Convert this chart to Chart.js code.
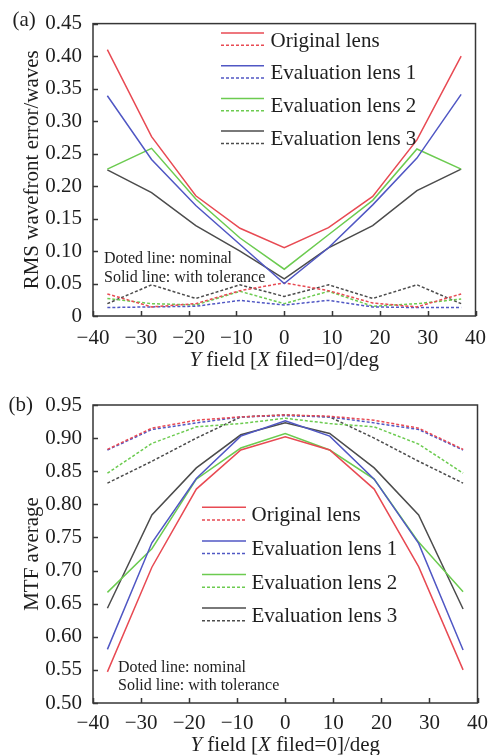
<!DOCTYPE html>
<html>
<head>
<meta charset="utf-8">
<script src="https://cdn.jsdelivr.net/npm/chart.js@4/dist/chart.umd.min.js"></script>
<style>
  html, body { margin: 0; padding: 0; background: #fff; }
  .panel { position: absolute; left: 0; }
  #panelA { top: 0; }
  #panelB { top: 380px; }
</style>
</head>
<body>
<div class="panel" id="panelA"><canvas id="chartA" width="496" height="380"></canvas></div>
<div class="panel" id="panelB"><canvas id="chartB" width="496" height="375"></canvas></div>
<script>
// Field angles sampled along Y (X field = 0), degrees
const fieldAngles = [-37, -27.75, -18.5, -9.25, 0, 9.25, 18.5, 27.75, 37];

const lensNames = ['Original lens', 'Evaluation lens 1', 'Evaluation lens 2', 'Evaluation lens 3'];
const lensColors = ['#e84a53', '#5057c4', '#6ccb50', '#4c4c4c'];

// (a) RMS wavefront error, waves — with tolerance (solid)
const rmsOriginalTol = [0.410, 0.276, 0.185, 0.135, 0.105, 0.136, 0.184, 0.271, 0.400];
const rmsLens1Tol    = [0.339, 0.241, 0.170, 0.110, 0.050, 0.105, 0.171, 0.243, 0.341];
const rmsLens2Tol    = [0.226, 0.258, 0.180, 0.120, 0.072, 0.125, 0.178, 0.257, 0.226];
const rmsLens3Tol    = [0.225, 0.190, 0.139, 0.100, 0.057, 0.105, 0.139, 0.193, 0.226];
// (a) RMS wavefront error, waves — nominal (dashed)
const rmsOriginalNom = [0.034, 0.014, 0.019, 0.039, 0.051, 0.039, 0.020, 0.014, 0.034];
const rmsLens1Nom    = [0.013, 0.014, 0.015, 0.024, 0.017, 0.024, 0.014, 0.013, 0.013];
const rmsLens2Nom    = [0.027, 0.019, 0.017, 0.038, 0.019, 0.038, 0.015, 0.019, 0.026];
const rmsLens3Nom    = [0.019, 0.048, 0.027, 0.048, 0.030, 0.048, 0.027, 0.048, 0.019];

// (b) MTF average — with tolerance (solid)
const mtfOriginalTol = [0.547, 0.705, 0.823, 0.882, 0.902, 0.882, 0.823, 0.706, 0.550];
const mtfLens1Tol    = [0.581, 0.742, 0.839, 0.903, 0.926, 0.903, 0.838, 0.741, 0.580];
const mtfLens2Tol    = [0.667, 0.733, 0.838, 0.885, 0.907, 0.882, 0.838, 0.743, 0.668];
const mtfLens3Tol    = [0.643, 0.784, 0.855, 0.905, 0.923, 0.907, 0.855, 0.784, 0.642];
// (b) MTF average — nominal (dashed)
const mtfOriginalNom = [0.883, 0.915, 0.927, 0.932, 0.935, 0.933, 0.927, 0.915, 0.883];
const mtfLens1Nom    = [0.882, 0.913, 0.923, 0.932, 0.934, 0.932, 0.923, 0.913, 0.882];
const mtfLens2Nom    = [0.847, 0.892, 0.917, 0.922, 0.930, 0.922, 0.917, 0.891, 0.847];
const mtfLens3Nom    = [0.832, 0.865, 0.900, 0.932, 0.935, 0.932, 0.900, 0.865, 0.832];

// Axis ranges and tick spacing
const xRange = [-40, 40];
const xStep = 10;
const rmsRange = [0, 0.45];
const mtfRange = [0.50, 0.95];
const yStep = 0.05;

const SERIF = "'Liberation Serif', 'DejaVu Serif', serif";
const TEXT = '#1e1e1e';

function buildDatasets(tolSeries, nomSeries) {
  const sets = [];
  lensNames.forEach((name, i) => {
    sets.push({
      label: name, lens: i, nominal: false,
      data: fieldAngles.map((x, k) => ({ x, y: tolSeries[i][k] })),
      borderColor: lensColors[i], borderWidth: 1.5,
      pointRadius: 0, tension: 0, fill: false
    });
  });
  lensNames.forEach((name, i) => {
    sets.push({
      label: name + ' (nominal)', lens: i, nominal: true,
      data: fieldAngles.map((x, k) => ({ x, y: nomSeries[i][k] })),
      borderColor: lensColors[i], borderWidth: 1.5, borderDash: [3, 2],
      pointRadius: 0, tension: 0, fill: false
    });
  });
  return sets;
}

// Closed frame around the plot area with inward tick marks
const frameTicks = {
  id: 'frameTicks',
  afterDatasetsDraw(chart) {
    const { ctx, chartArea: a, scales: { x, y } } = chart;
    ctx.save();
    ctx.strokeStyle = '#363636';
    ctx.lineWidth = 1.5;
    ctx.strokeRect(a.left, a.top, a.right - a.left, a.bottom - a.top);
    ctx.beginPath();
    x.ticks.forEach(t => {
      const px = Math.round(x.getPixelForValue(t.value)) + 0.5;
      ctx.moveTo(px, a.bottom); ctx.lineTo(px, a.bottom - 5);
    });
    y.ticks.forEach(t => {
      const py = Math.round(y.getPixelForValue(t.value)) + 0.5;
      ctx.moveTo(a.left, py); ctx.lineTo(a.left + 5, py);
    });
    ctx.stroke();
    ctx.restore();
  }
};

// Legend: each lens shows a solid (with tolerance) and a dashed (nominal) sample
const pairLegend = {
  id: 'pairLegend',
  afterDatasetsDraw(chart, args, o) {
    const { ctx } = chart;
    ctx.save();
    ctx.font = '21px ' + SERIF;
    ctx.fillStyle = TEXT;
    ctx.textBaseline = 'alphabetic';
    lensNames.forEach((name, i) => {
      const y0 = o.top + i * o.gap;
      ctx.strokeStyle = lensColors[i];
      ctx.lineWidth = 1.5;
      ctx.setLineDash([]);
      ctx.beginPath(); ctx.moveTo(o.x0, y0); ctx.lineTo(o.x1, y0); ctx.stroke();
      ctx.setLineDash([3, 2]);
      ctx.beginPath(); ctx.moveTo(o.x0, y0 + o.dash); ctx.lineTo(o.x1, y0 + o.dash); ctx.stroke();
      ctx.setLineDash([]);
      ctx.fillText(name, o.textX, y0 + o.base);
    });
    ctx.restore();
  }
};

// Panel tag, notes and the mixed-italic x-axis title
const panelText = {
  id: 'panelText',
  afterDraw(chart, args, o) {
    const { ctx, chartArea: a } = chart;
    ctx.save();
    ctx.fillStyle = TEXT;
    ctx.textBaseline = 'alphabetic';
    ctx.textAlign = 'left';
    ctx.font = '21px ' + SERIF;
    ctx.fillText(o.tag, o.tagX, o.tagY);

    ctx.font = '16px ' + SERIF;
    ctx.fillText('Doted line: nominal', o.noteX, o.noteY);
    ctx.fillText('Solid line: with tolerance', o.noteX, o.noteY + 18.5);

    const parts = [
      { t: 'Y', it: true }, { t: ' field [', it: false },
      { t: 'X', it: true }, { t: ' filed=0]/deg', it: false }
    ];
    const fontOf = p => (p.it ? 'italic ' : '') + '21px ' + SERIF;
    let total = 0;
    parts.forEach(p => { ctx.font = fontOf(p); total += ctx.measureText(p.t).width; });
    let cx = (a.left + a.right) / 2 - total / 2;
    const by = a.bottom + o.titleGap;
    parts.forEach(p => {
      ctx.font = fontOf(p);
      ctx.fillText(p.t, cx, by);
      cx += ctx.measureText(p.t).width;
    });
    ctx.restore();
  }
};

function makeChart(canvasId, cfg) {
  return new Chart(document.getElementById(canvasId), {
    type: 'line',
    data: { datasets: buildDatasets(cfg.tol, cfg.nom) },
    plugins: [frameTicks, pairLegend, panelText],
    options: {
      responsive: false,
      devicePixelRatio: 1,
      animation: false,
      layout: { padding: { top: cfg.padTop, right: 10, left: 0, bottom: 0 } },
      plugins: {
        legend: { display: false },
        tooltip: { enabled: false },
        pairLegend: cfg.legend,
        panelText: cfg.text
      },
      scales: {
        x: {
          type: 'linear',
          min: xRange[0], max: xRange[1],
          grid: { display: false, drawTicks: false },
          border: { display: false },
          ticks: {
            stepSize: xStep, padding: cfg.xTickPad, color: TEXT,
            font: { family: SERIF, size: 21 },
            callback: v => (v < 0 ? '\u2212' + Math.abs(v) : String(v))
          },
          afterFit: s => { s.height = cfg.xAxisHeight; }
        },
        y: {
          min: cfg.yRange[0], max: cfg.yRange[1],
          grid: { display: false, drawTicks: false },
          border: { display: false },
          ticks: {
            stepSize: yStep, padding: 11, color: TEXT,
            font: { family: SERIF, size: 21 },
            callback: v => (Math.abs(v) < 1e-9 ? '0' : v.toFixed(2))
          },
          title: {
            display: true, text: cfg.yTitle, color: TEXT,
            font: { family: SERIF, size: 21 },
            padding: { top: 20, bottom: 0 }
          },
          afterFit: s => { s.width = 93; }
        }
      }
    }
  });
}

makeChart('chartA', {
  tol: [rmsOriginalTol, rmsLens1Tol, rmsLens2Tol, rmsLens3Tol],
  nom: [rmsOriginalNom, rmsLens1Nom, rmsLens2Nom, rmsLens3Nom],
  yRange: rmsRange,
  yTitle: 'RMS wavefront error/waves',
  padTop: 18,
  xAxisHeight: 64,
  xTickPad: 10,
  legend: { x0: 221, x1: 264, textX: 270.5, top: 33, gap: 32.7, dash: 12.3, base: 13.5 },
  text: { tag: '(a)', tagX: 12.5, tagY: 25.5, noteX: 104, noteY: 263, titleGap: 50 }
});

makeChart('chartB', {
  tol: [mtfOriginalTol, mtfLens1Tol, mtfLens2Tol, mtfLens3Tol],
  nom: [mtfOriginalNom, mtfLens1Nom, mtfLens2Nom, mtfLens3Nom],
  yRange: mtfRange,
  yTitle: 'MTF average',
  padTop: 25,
  xAxisHeight: 52,
  xTickPad: 8,
  legend: { x0: 202, x1: 246, textX: 251.5, top: 127.3, gap: 33.6, dash: 12.7, base: 14 },
  text: { tag: '(b)', tagX: 8.5, tagY: 30.7, noteX: 118, noteY: 291.5, titleGap: 48 }
});
</script>
</body>
</html>
